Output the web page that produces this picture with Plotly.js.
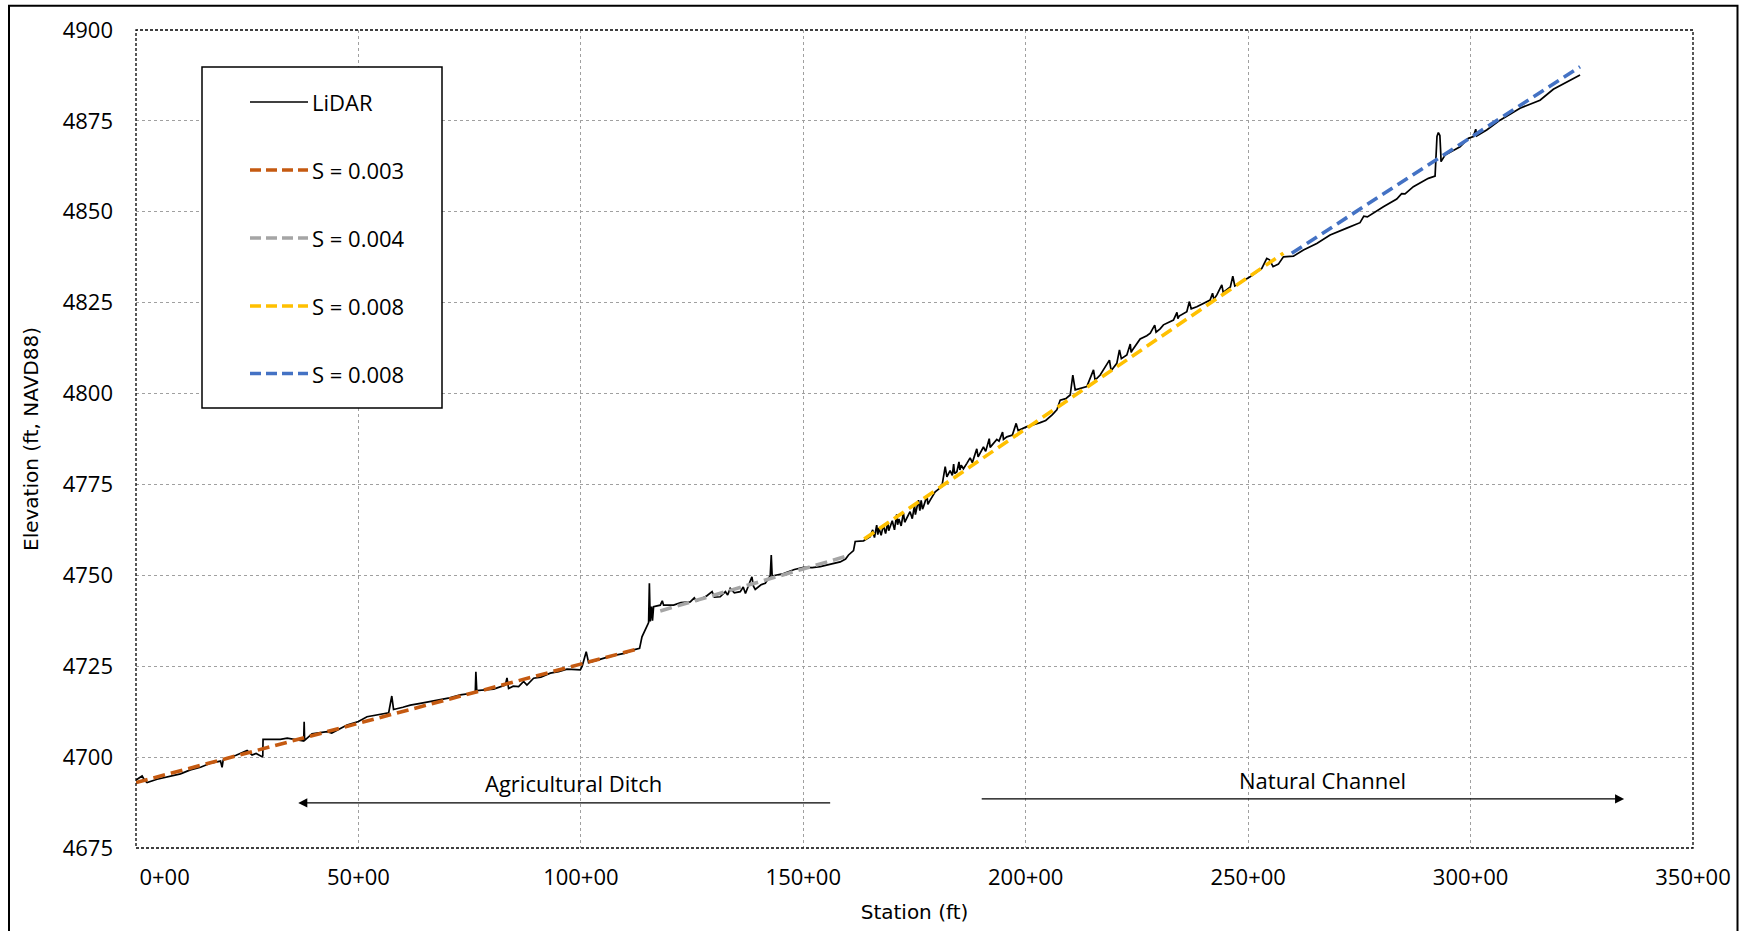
<!DOCTYPE html>
<html>
<head>
<meta charset="utf-8">
<script src="https://cdn.plot.ly/plotly-3.0.1.min.js"></script>
<style>
  html, body { margin: 0; padding: 0; background: #ffffff; }
  #chart { width: 1743px; height: 931px; }
</style>
</head>
<body>
<div id="chart"></div>
<script>
// ---------- DATA ----------
// LiDAR profile: [station (ft), elevation (ft)]
const lidarProfile = [
  [0, 4693.7], [137, 4694.8], [200, 4693.5], [249, 4693.0], [474, 4693.9], [848, 4695.0], [1000, 4695.4], [1222, 4696.5],
  [1450, 4697.2], [1672, 4698.3], [1900, 4698.9], [1935, 4697.2], [1960, 4699.2], [2047, 4699.7], [2250, 4700.5], [2497, 4701.8],
  [2609, 4700.6], [2700, 4701.0], [2834, 4700.1], [2850, 4700.3], [2856, 4704.9], [3245, 4704.9], [3400, 4705.2], [3769, 4704.4],
  [3780, 4709.7], [3790, 4704.6], [3957, 4706.4], [4294, 4707.0], [4400, 4706.6], [4744, 4708.8], [5000, 4709.8], [5193, 4711.1],
  [5400, 4711.6], [5680, 4712.2], [5750, 4716.8], [5790, 4713.1], [6000, 4713.7], [6167, 4714.3], [6391, 4714.8], [6600, 4715.3],
  [6841, 4715.9], [7050, 4716.3], [7290, 4717.1], [7627, 4717.7], [7640, 4723.5], [7660, 4718.3], [8039, 4718.7], [8302, 4719.8],
  [8339, 4721.8], [8376, 4718.9], [8480, 4719.5], [8601, 4719.4], [8713, 4720.8], [8788, 4719.8], [8938, 4721.7], [9100, 4722.0],
  [9313, 4723.1], [9500, 4723.5], [9688, 4724.2], [9988, 4724.0], [10030, 4725.0], [10061, 4726.3], [10120, 4729.0], [10174, 4726.0],
  [10300, 4726.5], [10436, 4726.9], [10600, 4727.5], [10811, 4728.1], [11000, 4728.6], [11185, 4729.5], [11320, 4729.9], [11374, 4733.1],
  [11486, 4735.9], [11523, 4737.0], [11540, 4747.8], [11560, 4737.3], [11590, 4741.4], [11610, 4737.5], [11635, 4741.4], [11785, 4741.8],
  [11830, 4743.0], [11860, 4741.8], [12084, 4741.8], [12250, 4742.5], [12459, 4742.7], [12550, 4743.8], [12600, 4742.9], [12834, 4744.4],
  [12950, 4745.5], [13000, 4744.0], [13133, 4744.1], [13250, 4745.5], [13300, 4744.6], [13358, 4746.4], [13450, 4745.2], [13583, 4745.5],
  [13650, 4746.8], [13700, 4745.0], [13845, 4749.6], [13880, 4747.0], [13920, 4746.1], [14050, 4747.4], [14145, 4747.8], [14257, 4749.9],
  [14280, 4755.6], [14300, 4749.8], [14556, 4750.5], [14800, 4751.6], [15006, 4752.2], [15200, 4752.1], [15381, 4752.4], [15600, 4753.1],
  [15830, 4753.7], [15950, 4754.5], [16017, 4755.6], [16129, 4756.8], [16167, 4759.3], [16354, 4759.5], [16504, 4760.6], [16560, 4762.5],
  [16600, 4760.4], [16650, 4763.8], [16675, 4761.2], [16700, 4763.0], [16750, 4761.0], [16800, 4763.8], [16850, 4761.5], [16900, 4764.6],
  [16920, 4762.3], [16953, 4763.4], [17000, 4765.0], [17050, 4762.5], [17100, 4766.8], [17120, 4763.9], [17150, 4765.5], [17200, 4763.6],
  [17250, 4767.2], [17280, 4764.6], [17328, 4765.7], [17400, 4767.5], [17450, 4765.6], [17500, 4769.3], [17520, 4766.7], [17553, 4768.4],
  [17590, 4770.7], [17620, 4767.8], [17650, 4770.6], [17680, 4768.2], [17703, 4768.9], [17780, 4771.9], [17800, 4769.5], [17853, 4770.7],
  [17965, 4773.0], [18115, 4774.4], [18190, 4779.9], [18228, 4777.1], [18300, 4778.8], [18350, 4777.5], [18380, 4780.6], [18400, 4778.0],
  [18453, 4778.5], [18500, 4781.2], [18520, 4779.0], [18550, 4780.3], [18600, 4779.3], [18677, 4780.8], [18750, 4782.3], [18800, 4781.0],
  [18900, 4784.8], [18930, 4782.6], [18977, 4783.6], [19050, 4785.3], [19100, 4784.1], [19180, 4787.6], [19200, 4785.2], [19275, 4786.3],
  [19350, 4787.4], [19400, 4786.9], [19480, 4789.4], [19500, 4787.4], [19576, 4788.1], [19700, 4788.6], [19785, 4791.8], [19830, 4789.8],
  [20026, 4790.9], [20325, 4792.0], [20450, 4792.6], [20600, 4794.2], [20700, 4795.5], [20775, 4798.2], [20900, 4798.6], [21000, 4799.6],
  [21059, 4805.1], [21112, 4801.0], [21374, 4801.9], [21524, 4806.5], [21560, 4803.7], [21674, 4805.1], [21882, 4809.2], [21920, 4806.3],
  [22048, 4808.3], [22107, 4812.0], [22150, 4809.6], [22273, 4810.6], [22350, 4813.6], [22370, 4811.3], [22400, 4812.0], [22572, 4815.0],
  [22722, 4815.9], [22800, 4816.6], [22900, 4818.8], [22930, 4816.9], [23021, 4817.8], [23096, 4818.9], [23200, 4819.6], [23321, 4820.2],
  [23400, 4822.3], [23420, 4820.6], [23450, 4821.3], [23621, 4822.5], [23680, 4825.3], [23720, 4823.3], [23846, 4823.9], [24000, 4824.8],
  [24145, 4825.7], [24200, 4827.6], [24230, 4825.9], [24300, 4827.2], [24408, 4829.9], [24440, 4827.8], [24520, 4828.5], [24600, 4829.3],
  [24655, 4832.3], [24700, 4829.6], [24745, 4829.9], [25044, 4832.1], [25307, 4834.4], [25419, 4837.2], [25480, 4836.8], [25560, 4834.9],
  [25680, 4835.6], [25793, 4837.6], [26018, 4837.8], [26243, 4839.5], [26543, 4841.3], [26842, 4843.6], [27217, 4845.5], [27515, 4847.0],
  [27600, 4848.8], [27680, 4848.6], [28040, 4851.4], [28340, 4853.5], [28450, 4855.0], [28527, 4854.9], [28714, 4856.9], [29051, 4859.2],
  [29202, 4859.8], [29230, 4866.0], [29245, 4870.7], [29276, 4871.8], [29310, 4871.0], [29330, 4866.0], [29336, 4863.8], [29426, 4865.6],
  [29763, 4867.9], [29950, 4870.2], [30062, 4870.7], [30116, 4872.7], [30140, 4870.9], [30362, 4872.5], [30662, 4875.2], [31111, 4878.5],
  [31561, 4880.7], [31860, 4883.7], [32123, 4885.5], [32461, 4887.6]
];

const fit003Station = [0, 11320];
const fit003Elev = [4693.0, 4729.9];
const fit004Station = [11785, 15980];
const fit004Elev = [4740.2, 4755.3];
const fit008aStation = [16369, 25793];
const fit008aElev = [4760.0, 4838.6];
const fit008bStation = [25980, 32461];
const fit008bElev = [4838.6, 4889.9];

const seriesNames = ['LiDAR', 'S = 0.003', 'S = 0.004', 'S = 0.008', 'S = 0.008'];
const seriesColors = ['#000000', '#C55A11', '#A5A5A5', '#FFC000', '#4472C4'];

const xTickVals = [0, 5000, 10000, 15000, 20000, 25000, 30000, 35000];
const xTickText = ['\u00a0\u00a0\u00a0\u00a0\u00a0\u00a0\u00a0\u00a0\u00a0\u00a00+00', '50+00', '100+00', '150+00', '200+00', '250+00', '300+00', '350+00'];
const yTickVals = [4675, 4700, 4725, 4750, 4775, 4800, 4825, 4850, 4875, 4900];

const regionLabels = ['Agricultural Ditch', 'Natural Channel'];
const regionTextX = [9843, 26666];
const regionTextY = [4692.8, 4693.7];
const regionArrowFrom = [15638, 18977];
const regionArrowTo = [3647, 33452];
const regionArrowY = [4687.4, 4688.5];

// ---------- TRACES ----------
const fitDash = '12px,6px';
const traces = [
  { x: lidarProfile.map(p => p[0]), y: lidarProfile.map(p => p[1]), name: seriesNames[0], type: 'scatter', mode: 'lines',
    line: { color: seriesColors[0], width: 1.7 } },
  { x: fit003Station, y: fit003Elev, name: seriesNames[1], type: 'scatter', mode: 'lines',
    line: { color: seriesColors[1], width: 3.6, dash: fitDash } },
  { x: fit004Station, y: fit004Elev, name: seriesNames[2], type: 'scatter', mode: 'lines',
    line: { color: seriesColors[2], width: 3.6, dash: fitDash } },
  { x: fit008aStation, y: fit008aElev, name: seriesNames[3], type: 'scatter', mode: 'lines',
    line: { color: seriesColors[3], width: 3.6, dash: fitDash } },
  { x: fit008bStation, y: fit008bElev, name: seriesNames[4], type: 'scatter', mode: 'lines',
    line: { color: seriesColors[4], width: 3.6, dash: fitDash } }
];

// ---------- LAYOUT ----------
const tickFont = { family: 'Open Sans, Noto Sans, sans-serif', size: 22, color: '#000000' };
const titleFont = { family: 'DejaVu Sans, Verdana, sans-serif', size: 20, color: '#000000' };

// plot area in px: left 136, right 1693, top 30, bottom 848
const L = 136, R = 1693, T = 30, B = 848;
const px2paperX = (X) => (X - L) / (R - L);
const px2paperY = (Y) => (B - Y) / (B - T);

const shapes = [];
const annotations = [];

// outer chart border
shapes.push({ type: 'rect', xref: 'paper', yref: 'paper',
  x0: px2paperX(9), x1: px2paperX(1737.5), y0: px2paperY(960), y1: px2paperY(5.7),
  line: { color: '#000000', width: 2 }, fillcolor: 'rgba(0,0,0,0)', layer: 'above' });
// dashed plot-area border
shapes.push({ type: 'rect', xref: 'paper', yref: 'paper', x0: 0, x1: 1, y0: 0, y1: 1,
  line: { color: '#000000', width: 1.3, dash: '3px,2px' }, fillcolor: 'rgba(0,0,0,0)', layer: 'above' });

// legend box
shapes.push({ type: 'rect', xref: 'paper', yref: 'paper',
  x0: px2paperX(202), x1: px2paperX(442), y0: px2paperY(408), y1: px2paperY(67),
  line: { color: '#000000', width: 1.5 }, fillcolor: '#ffffff', layer: 'above' });
const legendY = [102, 170, 238, 306, 373.5];
seriesNames.forEach((nm, i) => {
  shapes.push({ type: 'line', xref: 'paper', yref: 'paper',
    x0: px2paperX(250), x1: px2paperX(308), y0: px2paperY(legendY[i]), y1: px2paperY(legendY[i]),
    line: { color: seriesColors[i], width: i === 0 ? 1.5 : 3.6, dash: i === 0 ? 'solid' : '11px,5px' },
    layer: 'above' });
  annotations.push({ xref: 'paper', yref: 'paper', x: px2paperX(310), y: px2paperY(legendY[i]),
    xanchor: 'left', yanchor: 'middle', showarrow: false, text: nm, font: tickFont });
});

// region arrows and labels
regionLabels.forEach((lbl, i) => {
  annotations.push({ xref: 'x', yref: 'y', axref: 'x', ayref: 'y',
    x: regionArrowTo[i], y: regionArrowY[i], ax: regionArrowFrom[i], ay: regionArrowY[i],
    text: '', showarrow: true, arrowhead: 2, arrowsize: 1.3, arrowwidth: 1.4, arrowcolor: '#000000' });
  annotations.push({ xref: 'x', yref: 'y', x: regionTextX[i], y: regionTextY[i],
    xanchor: 'center', yanchor: 'middle', showarrow: false, text: lbl, font: tickFont });
});

const layout = {
  width: 1743, height: 931,
  margin: { l: L, r: 1743 - R, t: T, b: 931 - B, pad: 0 },
  paper_bgcolor: '#ffffff', plot_bgcolor: '#ffffff',
  showlegend: false,
  xaxis: {
    range: [0, 35000], tickvals: xTickVals, ticktext: xTickText,
    showgrid: true, gridcolor: '#a0a0a0', gridwidth: 1.2, griddash: 'dot',
    zeroline: false, showline: false, ticks: '', ticklabelstandoff: 14,
    tickfont: tickFont,
    title: { text: 'Station (ft)', font: titleFont, standoff: 14 }
  },
  yaxis: {
    range: [4675, 4900], tickvals: yTickVals,
    showgrid: true, gridcolor: '#a0a0a0', gridwidth: 1.2, griddash: 'dot',
    zeroline: false, showline: false, ticks: '', ticklabelstandoff: 22,
    tickfont: tickFont,
    title: { text: 'Elevation (ft, NAVD88)', font: titleFont, standoff: 18 }
  },
  shapes: shapes,
  annotations: annotations
};

Plotly.newPlot('chart', traces, layout, { staticPlot: true, displayModeBar: false });
</script>
</body>
</html>
